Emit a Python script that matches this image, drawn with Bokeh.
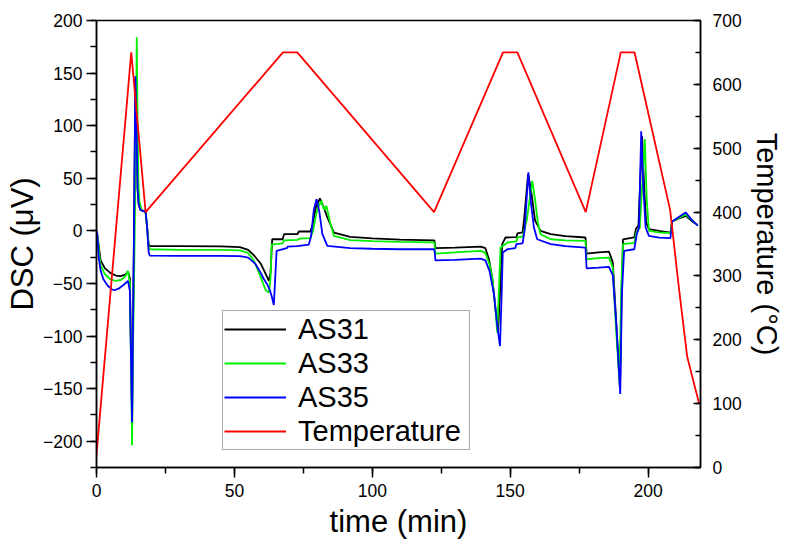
from bokeh.plotting import figure
from bokeh.models import Range1d, LinearAxis, SingleIntervalTicker, Legend, LegendItem
from bokeh.embed import file_html
from bokeh.resources import INLINE

# ---------------- data ----------------
as31_t = [0, 0.5, 1.5, 3, 5, 7, 8.7, 10.5, 11.4, 12.1, 12.9, 13.2, 13.6, 14.1, 14.5, 14.9, 15.3, 15.9,
          17.8, 18.3, 18.9, 19.3, 30, 45, 52, 55, 57, 59.5, 61, 62.5, 63.1, 63.7, 67.5, 68, 72.9, 73.4,
          77.5, 78.3, 79.5, 81, 82, 83.7, 86.1, 92, 100, 110, 122.5, 122.9, 130, 139.3, 141, 142.3,
          143.5, 144.5, 145.6, 146.3, 147.1, 148.3, 152.3, 152.6, 154.5, 155, 156.5, 157.5, 159, 161,
          164.7, 170, 177.3, 177.7, 182, 185.8, 187.2, 188.3, 189.8, 190.4, 190.9, 195, 195.6, 196.5,
          197.8, 198.6, 199.3, 200.3, 204, 208.1, 208.7, 211, 213.6, 216, 218]
as31_v = [0, -8, -28, -35.5, -40, -42.5, -43, -41.5, -38.5, -45, -180, -100, 0, 145, 95, 40, 25, 20,
          18, 5, -12, -14.5, -14.5, -14.8, -15.5, -18, -23, -31, -39, -47.6, -40, -8, -8, -3.2, -3, -0.6,
          -0.6, 5, 22, 30.8, 25, 12.7, -1.6, -5.7, -7.2, -8.3, -9, -16.5, -16, -15, -16.5, -27,
          -45, -70, -96, -60, -12.7, -6.3, -6, -2.5, -1.5, 10, 54, 40, 10, 0,
          -3.2, -5, -6.3, -21.6, -20.5, -19.7, -30, -80, -150, -60, -8, -6.3, 2, 5,
          90, 40, 8, 1.6, 0, -1.6, 8.9, 11.5, 14.3, 9, 5.5]

as33_t = [0, 0.4, 1, 1.5, 3, 5, 6.9, 9, 10.5, 11.4, 12.1, 12.9, 13.2, 13.7, 14.2, 14.6, 14.9, 15.2,
          15.6, 16.3, 17.8, 18.3, 18.9, 19.3, 30, 45, 52, 55, 57, 58.9, 60.7, 61.5, 62.5, 63.1, 63.5,
          67.5, 68, 73, 73.5, 77.5, 78.5, 80, 81.5, 82.5, 83.4, 84.5, 86.1, 92, 100, 110, 122.5, 122.9,
          130, 139.3, 141, 142.5, 143.5, 144.5, 145.3, 146, 146.5, 149, 152.3, 152.6, 154.5, 156, 158,
          159, 160, 161, 164.7, 170, 177.3, 177.7, 182, 185.8, 187.2, 188.2, 189.6, 190.3, 190.9, 195,
          195.7, 197, 198.8, 199.5, 200.3, 204, 208.1, 208.7, 211, 213.6, 216, 218]
as33_v = [0, -5, -22, -33, -41, -46, -47.6, -46.5, -43, -38, -50, -204, -120, -30, 60, 184, 100, 45,
          28, 20, 18, 5, -15, -17.5, -18, -18, -18.5, -21, -28, -39.7, -52, -57, -58.7, -45, -13,
          -12, -9, -8.5, -7.3, -7, 0, 20, 28.6, 20, 23.8, 10, -4.8, -8.9, -9.8, -10.5, -11, -21.6,
          -20.5, -19, -21, -32, -44.5, -70, -96.8, -50, -16, -11, -10, -6.3, -5.5, 10, 47.6,
          30, 8, -3.2, -8, -9, -9.5, -27, -26, -25.4, -35, -85.7, -143, -50, -12.7, -11.4,
          -2, 3, 87.3, 30, 0, -1.5, -2.2, 8.9, 12, 15.5, 10, 5]

as35_t = [0, 0.3, 0.8, 1.5, 2.5, 4, 5.5, 6.5, 8, 10, 11.4, 12.1, 12.9, 13.2, 13.6, 14.1, 14.5, 14.9,
          15.3, 15.9, 17.8, 18.3, 18.9, 19.3, 30, 45, 52, 55, 57.7, 59.5, 60.7, 61.9, 62.8, 63.5, 64.3,
          64.8, 65.3, 69, 69.3, 72.8, 77, 77.8, 78.8, 79.8, 80.8, 81.9, 83.7, 92, 100, 110, 122.5,
          122.9, 130, 139.3, 141, 142.5, 144.1, 145.3, 146.3, 146.9, 147.3, 149, 151.8, 152.2, 154.5,
          155.2, 156.6, 157.6, 158.6, 159.8, 164.7, 170, 177.3, 177.7, 182, 185.8, 187.2, 188.5, 189.9,
          190.5, 191.3, 195, 195.9, 196.7, 197.5, 198.3, 199.1, 200.3, 204, 208.1, 208.7, 211, 213.6,
          216, 218]
as35_v = [0, -3, -25, -38, -46, -52, -55.5, -56.5, -55, -51, -47.6, -57, -182, -100, 0, 147, 100, 40,
          25, 20, 18, 5, -20, -23.5, -23.8, -23.8, -24, -25.5, -31.7, -39.7, -46, -50.8, -56, -62, -70.5,
          -45, -19, -16.5, -15, -14.5, -13, -5, 20, 30.2, 18, -3.2, -14.3, -16.5, -17, -17.5, -17.5,
          -28, -27.5, -26.4, -28, -38, -60, -90, -109.5, -60, -20.6, -17.5, -16.5, -12.7, -12,
          0, 55.6, 25, 3.2, -8, -12.7, -14.5, -15.9, -35.6, -35, -34.3, -42, -90, -155,
          -60, -19, -17.5, -3.2, 3.2, 94.6, 40, 3.2, -4.8, -6.5, -7, 8.9, 13, 17.5,
          10, 5]

temp_t = [0, 12.6, 17.8, 67.6, 72.8, 122.4, 147.4, 152.6, 177.4, 190.1, 195.1, 208.0, 211.2, 214.2, 218.5]
temp_v = [20, 650, 400, 650, 650, 400, 650, 650, 400, 650, 650, 403, 280, 173, 100]

x_ticks_interval = 50
dsc_ticks_interval = 50
temp_ticks_interval = 100

FONT = "Liberation Sans"

p = figure(width=792, height=545,
           x_range=Range1d(0, 219), y_range=Range1d(-225, 200),
           output_backend="svg", toolbar_location=None,
           min_border_left=96, min_border_right=92, min_border_top=20, min_border_bottom=78)
p.extra_y_ranges = {"temp": Range1d(0, 700)}
p.grid.visible = False
p.outline_line_color = "black"
p.outline_line_width = 1.5
p.background_fill_color = "white"
p.border_fill_color = "white"


def style_axis(ax, out=True, title_size="31px"):
    ax.axis_line_width = 1.5
    ax.axis_line_color = "black"
    ax.major_tick_line_width = 1.5
    ax.minor_tick_line_width = 1.5
    ax.major_tick_line_color = "black"
    ax.minor_tick_line_color = "black"
    if out:
        ax.major_tick_out = 10
        ax.major_tick_in = 0
        ax.minor_tick_out = 6
        ax.minor_tick_in = 0
    else:
        ax.major_tick_out = 0
        ax.major_tick_in = 7
        ax.minor_tick_out = 0
        ax.minor_tick_in = 5
    ax.major_label_text_font = FONT
    ax.major_label_text_font_size = "17.5px"
    ax.major_label_text_color = "black"
    ax.axis_label_text_font = FONT
    ax.axis_label_text_font_size = title_size
    ax.axis_label_text_font_style = "normal"
    ax.axis_label_text_color = "black"


xa = p.xaxis[0]
xa.ticker = SingleIntervalTicker(interval=x_ticks_interval, num_minor_ticks=2)
xa.axis_label = "time (min)"
style_axis(xa)
xa.major_label_standoff = 6
xa.axis_label_standoff = 4

ya = p.yaxis[0]
ya.ticker = SingleIntervalTicker(interval=dsc_ticks_interval, num_minor_ticks=2)
ya.axis_label = "DSC (μV)"
style_axis(ya)
ya.major_label_standoff = 4
ya.axis_label_standoff = 0

ra = LinearAxis(y_range_name="temp",
                ticker=SingleIntervalTicker(interval=temp_ticks_interval, num_minor_ticks=2),
                axis_label="Temperature (°C)")
style_axis(ra, out=False, title_size="29px")
ra.major_label_standoff = 12
ra.axis_label_standoff = 6
p.add_layout(ra, "right")

r1 = p.line(as31_t, as31_v, line_color="#000000", line_width=1.8)
r2 = p.line(as33_t, as33_v, line_color="#00f000", line_width=1.8)
r3 = p.line(as35_t, as35_v, line_color="#0000ff", line_width=1.8)
r4 = p.line(temp_t, temp_v, line_color="#ff0000", line_width=1.8, y_range_name="temp")

legend = Legend(items=[LegendItem(label="AS31", renderers=[r1]),
                       LegendItem(label="AS33", renderers=[r2]),
                       LegendItem(label="AS35", renderers=[r3]),
                       LegendItem(label="Temperature", renderers=[r4])],
                location=(126, 17), orientation="vertical")
legend.label_text_font = FONT
legend.label_text_font_size = "29px"
legend.label_text_color = "black"
legend.glyph_width = 62
legend.glyph_height = 34
legend.label_height = 34
legend.label_width = 170
legend.label_standoff = 12
legend.padding = 1
legend.spacing = 0
legend.margin = 0
legend.border_line_color = "#555555"
legend.border_line_width = 1
legend.background_fill_color = "white"
legend.background_fill_alpha = 1
p.add_layout(legend, "center")

open("out.html", "w").write(file_html(p, INLINE))
